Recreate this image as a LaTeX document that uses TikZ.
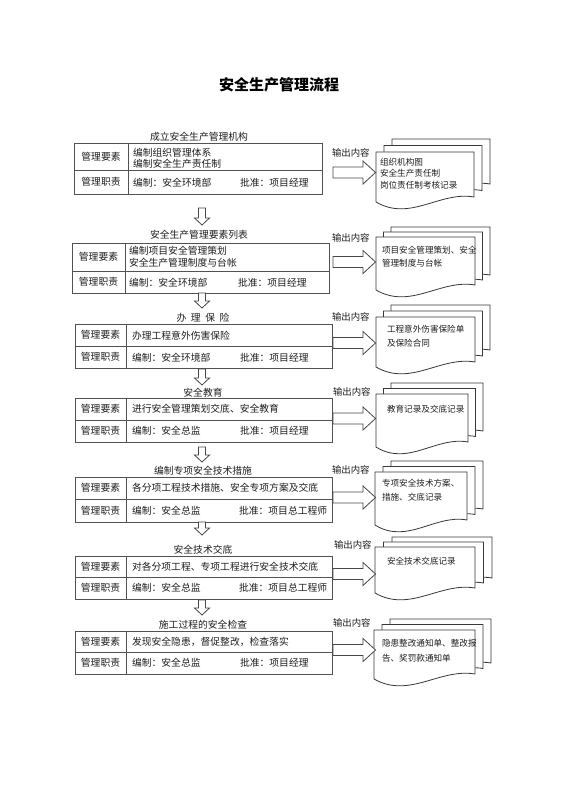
\documentclass[tikz,border=0pt]{standalone}
\usepackage{fontspec}
\setmainfont{Noto Sans CJK SC}
\newfontfamily\cjk{Noto Sans CJK SC}
\usetikzlibrary{calc}
\tikzset{
  x=1pt, y=-1pt,
  every node/.style={font=\cjk, text=black!88, inner sep=0pt, outer sep=0pt},
  ln/.style={draw=black!68, line width=0.8pt},
  boxnode/.style={draw=black!68, line width=0.8pt, inner sep=0pt, outer sep=0pt, anchor=north west},
  maintxt/.style={font=\cjk\fontsize{9.8}{11}\selectfont},
  rowtxt/.style={maintxt, anchor=west},
  labtxt/.style={font=\cjk\fontsize{9.8}{11}\selectfont},
  outtxt/.style={font=\cjk\fontsize{9.4}{11}\selectfont, anchor=west},
  doctxt/.style={font=\cjk\fontsize{8.6}{10}\selectfont, anchor=west},
  docst/.style={draw=black!78, fill=white, line width=0.8pt, line join=miter},
  blk/.style={draw=black!72, fill=white, line width=0.8pt, line join=miter},
  ghost/.style={inner sep=0pt, outer sep=0pt, anchor=north west}
}
\newcommand\mgsec[7]{% name L R T D B C
  \node[boxnode, minimum width={(#3-#2)*1pt}, minimum height={(#6-#4)*1pt}] (#1) at (#2,#4) {};
  \draw[ln] (#2,#5) -- (#3,#5);
  \draw[ln] (#7,#4) -- (#7,#6);
  \node[maintxt] (#1k1) at ({(#2+#7)/2},{(#4+#5)/2}) {管理要素};
  \node[maintxt] (#1k2) at ({(#2+#7)/2},{(#5+#6)/2}) {管理职责};
}
\newcommand\docsh[4]{%
  \pgfmathsetmacro\docL{#1}\pgfmathsetmacro\docR{#2}%
  \pgfmathsetmacro\docT{#3}\pgfmathsetmacro\docB{#4}%
  \pgfmathsetmacro\docA{\docL+0.65*(\docR-\docL)}%
  \pgfmathsetmacro\docC{\docL+0.35*(\docR-\docL)}%
  \filldraw[docst] (\docL,\docT) -- (\docR,\docT) -- (\docR,\docB-5)
    .. controls (\docA,\docB-11) and (\docC,\docB+20) .. (\docL,\docB) -- cycle;%
}
\newcommand\docstack[7]{% name L R T B dx dy
  \docsh{#2+2*(#6)}{#3+2*(#6)}{#4+2*(#7)}{#5+2*(#7)}%
  \docsh{#2+(#6)}{#3+(#6)}{#4+(#7)}{#5+(#7)}%
  \docsh{#2}{#3}{#4}{#5}%
  \node[ghost, minimum width={(#3-#2)*1pt}, minimum height={(#5-#4)*1pt}] (#1) at (#2,#4) {};%
}
\newcommand\darr[4]{% name x ytop ybottom
  \coordinate (#1a) at (#2,#3);
  \coordinate (#1b) at (#2,#4);
  \draw[blk] ($(#1a)+(-3.5,0)$) -- ($(#1a)+(3.5,0)$) -- ($(#1b)+(3.5,-7)$) -- ($(#1b)+(7.5,-7)$)
    -- (#1b) -- ($(#1b)+(-7.5,-7)$) -- ($(#1b)+(-3.5,-7)$) -- cycle;
}
\newcommand\rarr[2]{% name cy
  \coordinate (#1a) at (333,#2);
  \coordinate (#1b) at (375.5,#2);
  \draw[blk] ($(#1a)+(0,-5.5)$) -- ($(#1b)+(-12.5,-5.5)$) -- ($(#1b)+(-12.5,-11.5)$) -- (#1b)
    -- ($(#1b)+(-12.5,11.5)$) -- ($(#1b)+(-12.5,5.5)$) -- ($(#1a)+(0,5.5)$) -- cycle;
}
\begin{document}
\begin{tikzpicture}
\useasboundingbox (0,0) rectangle (560,792);
\fill[white] (0,0) rectangle (560,792);

\node[font=\cjk\bfseries\fontsize{15}{18}\selectfont, text=black] (title) at (279,85) {安全生产管理流程};

% section 1
\node[labtxt] (l1) at (199,137) {成立安全生产管理机构};
\mgsec{s1}{74}{322}{143}{170}{194}{128}
\node[rowtxt] (s1a) at (133,152.7) {编制组织管理体系};
\node[rowtxt] (s1b) at (133,163.5) {编制安全生产责任制};
\node[rowtxt] (s1c) at (133,183) {编制：安全环境部};
\node[rowtxt] (s1d) at (240,183) {批准：项目经理};

% section 2
\node[labtxt] (l2) at (199,235) {安全生产管理要素列表};
\mgsec{s2}{72}{329}{243}{271}{293}{125}
\node[rowtxt] (s2a) at (129,251) {编制项目安全管理策划};
\node[rowtxt] (s2b) at (129,263) {安全生产管理制度与台帐};
\node[rowtxt] (s2c) at (129,282.5) {编制：安全环境部};
\node[rowtxt] (s2d) at (238,282.5) {批准：项目经理};

% section 3
\node[labtxt] (l3) at (203,318) {{\spaceskip=4.6pt\relax 办 理 保 险}};
\mgsec{s3}{75}{332}{324}{346}{368}{126}
\node[rowtxt] (s3a) at (132,335.5) {办理工程意外伤害保险};
\node[rowtxt] (s3c) at (132,357.5) {编制：安全环境部};
\node[rowtxt] (s3d) at (240,357.5) {批准：项目经理};

% section 4
\node[labtxt] (l4) at (203,392.5) {安全教育};
\mgsec{s4}{75}{332}{398}{420}{442}{126}
\node[rowtxt] (s4a) at (132,409) {进行安全管理策划交底、安全教育};
\node[rowtxt] (s4c) at (132,431) {编制：安全总监};
\node[rowtxt] (s4d) at (240,431) {批准：项目经理};

% section 5
\node[labtxt] (l5) at (203,470.5) {编制专项安全技术措施};
\mgsec{s5}{75}{332}{477}{499}{522}{126}
\node[rowtxt] (s5a) at (132,488) {各分项工程技术措施、安全专项方案及交底};
\node[rowtxt] (s5c) at (132,510.5) {编制：安全总监};
\node[rowtxt] (s5d) at (239,510.5) {批准：项目总工程师};

% section 6
\node[labtxt] (l6) at (203,549.5) {安全技术交底};
\mgsec{s6}{75}{332}{556}{577}{599}{126}
\node[rowtxt] (s6a) at (132,566.5) {对各分项工程、专项工程进行安全技术交底};
\node[rowtxt] (s6c) at (132,588) {编制：安全总监};
\node[rowtxt] (s6d) at (239,588) {批准：项目总工程师};

% section 7
\node[labtxt] (l7) at (203,624.5) {施工过程的安全检查};
\mgsec{s7}{75}{332}{631}{652}{674}{126}
\node[rowtxt] (s7a) at (132,641.5) {发现安全隐患，督促整改，检查落实};
\node[rowtxt] (s7c) at (132,663) {编制：安全总监};
\node[rowtxt] (s7d) at (240,663) {批准：项目经理};

% down arrows
\darr{da1}{202}{208}{225}
\darr{da2}{202}{293}{308}
\darr{da3}{202}{369}{385}
\darr{da4}{202}{447}{462}
\darr{da5}{202}{522}{535}
\darr{da6}{202}{600}{615}

% document stacks
\docstack{d1}{376}{474}{152}{202}{8}{-6.5}
\docstack{d2}{376}{475}{237}{290}{7.5}{-5}
\docstack{d3}{376}{475}{317}{367}{7.5}{-6}
\docstack{d4}{376}{468}{394}{447}{7.5}{-5.5}
\docstack{d5}{375}{467}{472}{525}{8}{-5.5}
\docstack{d6}{375}{475}{547}{593}{8.5}{-5}
\docstack{d7}{374}{475}{630}{679}{8}{-5.5}

% right arrows
\rarr{ra1}{172.5}
\rarr{ra2}{262}
\rarr{ra3}{343}
\rarr{ra4}{418.5}
\rarr{ra5}{497.5}
\rarr{ra6}{574}
\rarr{ra7}{650}

% output labels
\node[outtxt] (o1) at (332,153) {输出内容};
\node[outtxt] (o2) at (332,238) {输出内容};
\node[outtxt] (o3) at (332,317) {输出内容};
\node[outtxt] (o4) at (333,392) {输出内容};
\node[outtxt] (o5) at (332,470) {输出内容};
\node[outtxt] (o6) at (334,545) {输出内容};
\node[outtxt] (o7) at (333,623) {输出内容};

% document texts
\node[doctxt] (t1a) at (380,162) {组织机构图};
\node[doctxt] (t1b) at (380,173.5) {安全生产责任制};
\node[doctxt] (t1c) at (380,185) {岗位责任制考核记录};
\node[doctxt] (t2a) at (382,250) {项目安全管理策划、安全};
\node[doctxt] (t2b) at (382,263) {管理制度与台帐};
\node[doctxt] (t3a) at (387,329) {工程意外伤害保险单};
\node[doctxt] (t3b) at (387,343) {及保险合同};
\node[doctxt] (t4a) at (387,409) {教育记录及交底记录};
\node[doctxt] (t5a) at (382,483) {专项安全技术方案、};
\node[doctxt] (t5b) at (382,497) {措施、交底记录};
\node[doctxt] (t6a) at (387,561) {安全技术交底记录};
\node[doctxt] (t7a) at (382,643) {隐患整改通知单、整改报};
\node[doctxt] (t7b) at (382,658) {告、奖罚款通知单};
\end{tikzpicture}
\end{document}
